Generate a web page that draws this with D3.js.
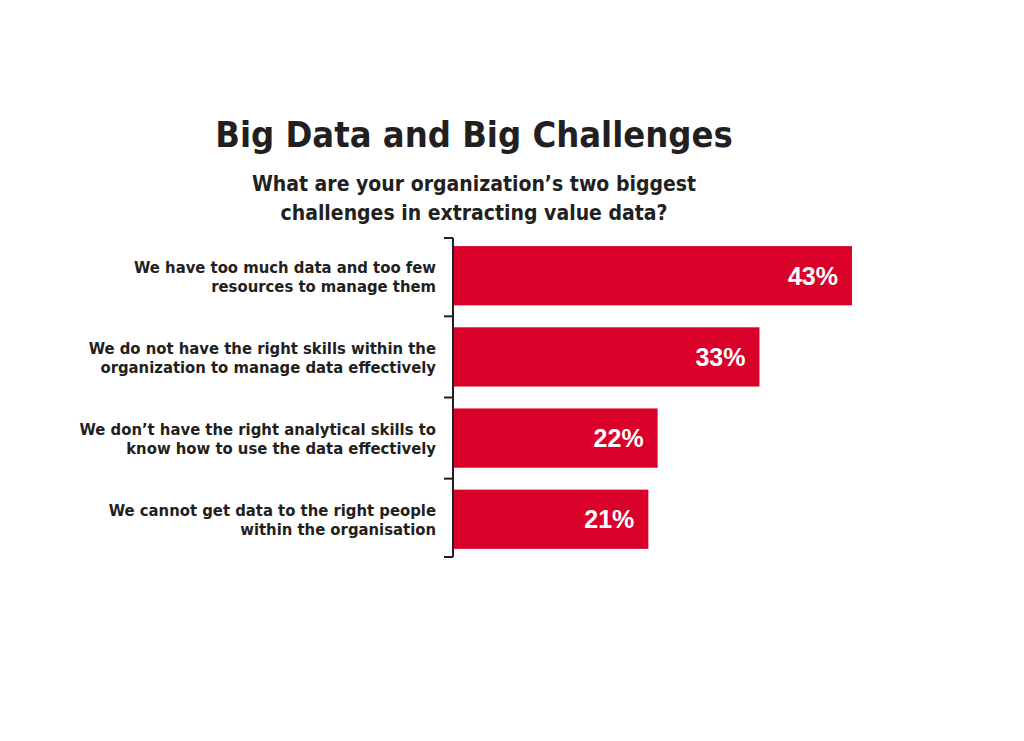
<!DOCTYPE html>
<html><head><meta charset="utf-8">
<script src="https://cdn.jsdelivr.net/npm/d3@7"></script>
<style>
body{margin:0;background:#fff;}
text{font-family:"Liberation Sans Narrow","DejaVu Sans Condensed",sans-serif;font-weight:bold;fill:#231f20;}
</style></head><body>
<svg id="chart" width="1024" height="741"></svg>
<script>
const labels = [
  ["We have too much data and too few", "resources to manage them"],
  ["We do not have the right skills within the", "organization to manage data effectively"],
  ["We don’t have the right analytical skills to", "know how to use the data effectively"],
  ["We cannot get  data to the right people", "within the organisation"]
];
const values = [43, 33, 22, 21];
const ids = values.map((d, i) => i);

const svg = d3.select('#chart');
const x0 = 454, yTop = 238, yBot = 557;

const x = d3.scaleLinear().domain([0, 43]).range([x0, 852]);
const y = d3.scaleBand().domain(ids).range([yTop, yBot]).paddingInner(0.27).paddingOuter(0.1);

svg.append('text').attr('x', 474).attr('y', 147).attr('text-anchor', 'middle')
  .style('font-size', '36px').text('Big Data and Big Challenges');
svg.append('text').attr('x', 474).attr('y', 191).attr('text-anchor', 'middle')
  .style('font-size', '21px').text('What are your organization’s two biggest');
svg.append('text').attr('x', 474).attr('y', 220).attr('text-anchor', 'middle')
  .style('font-size', '21px').text('challenges in extracting value data?');

svg.selectAll('rect.bar').data(ids).join('rect')
  .attr('class', 'bar')
  .attr('x', x0)
  .attr('y', (i) => y(i))
  .attr('width', (i) => x(values[i]) - x0)
  .attr('height', y.bandwidth())
  .attr('fill', '#d9002a');

svg.selectAll('text.val').data(ids).join('text')
  .attr('class', 'val')
  .attr('x', (i) => x(values[i]) - 14)
  .attr('y', (i) => y(i) + y.bandwidth() / 2 + 9)
  .attr('text-anchor', 'end')
  .style('font-family', '"Liberation Sans","Arial",sans-serif')
  .style('font-size', '25px')
  .style('fill', '#fff')
  .text((i) => values[i] + '%');

const lab = svg.selectAll('text.lab').data(ids).join('text')
  .attr('class', 'lab')
  .attr('text-anchor', 'end')
  .style('font-size', '16.5px');
lab.selectAll('tspan').data((i) => labels[i].map((t, k) => ({ t, k, i }))).join('tspan')
  .attr('x', 436)
  .attr('y', (d) => y(d.i) + y.bandwidth() / 2 - 3 + d.k * 19)
  .text((d) => d.t);

// bracket axis
svg.append('line').attr('x1', 453).attr('x2', 453).attr('y1', yTop).attr('y2', yBot)
  .attr('stroke', '#231f20').attr('stroke-width', 2);
const ticks = [yTop].concat(ids.slice(1).map((i) => y(i) - y.step() * y.paddingInner() / 2)).concat([yBot]);
svg.selectAll('line.tick').data(ticks).join('line')
  .attr('x1', 444).attr('x2', 453).attr('y1', (d) => d).attr('y2', (d) => d)
  .attr('stroke', '#231f20').attr('stroke-width', 2);
</script></body></html>
